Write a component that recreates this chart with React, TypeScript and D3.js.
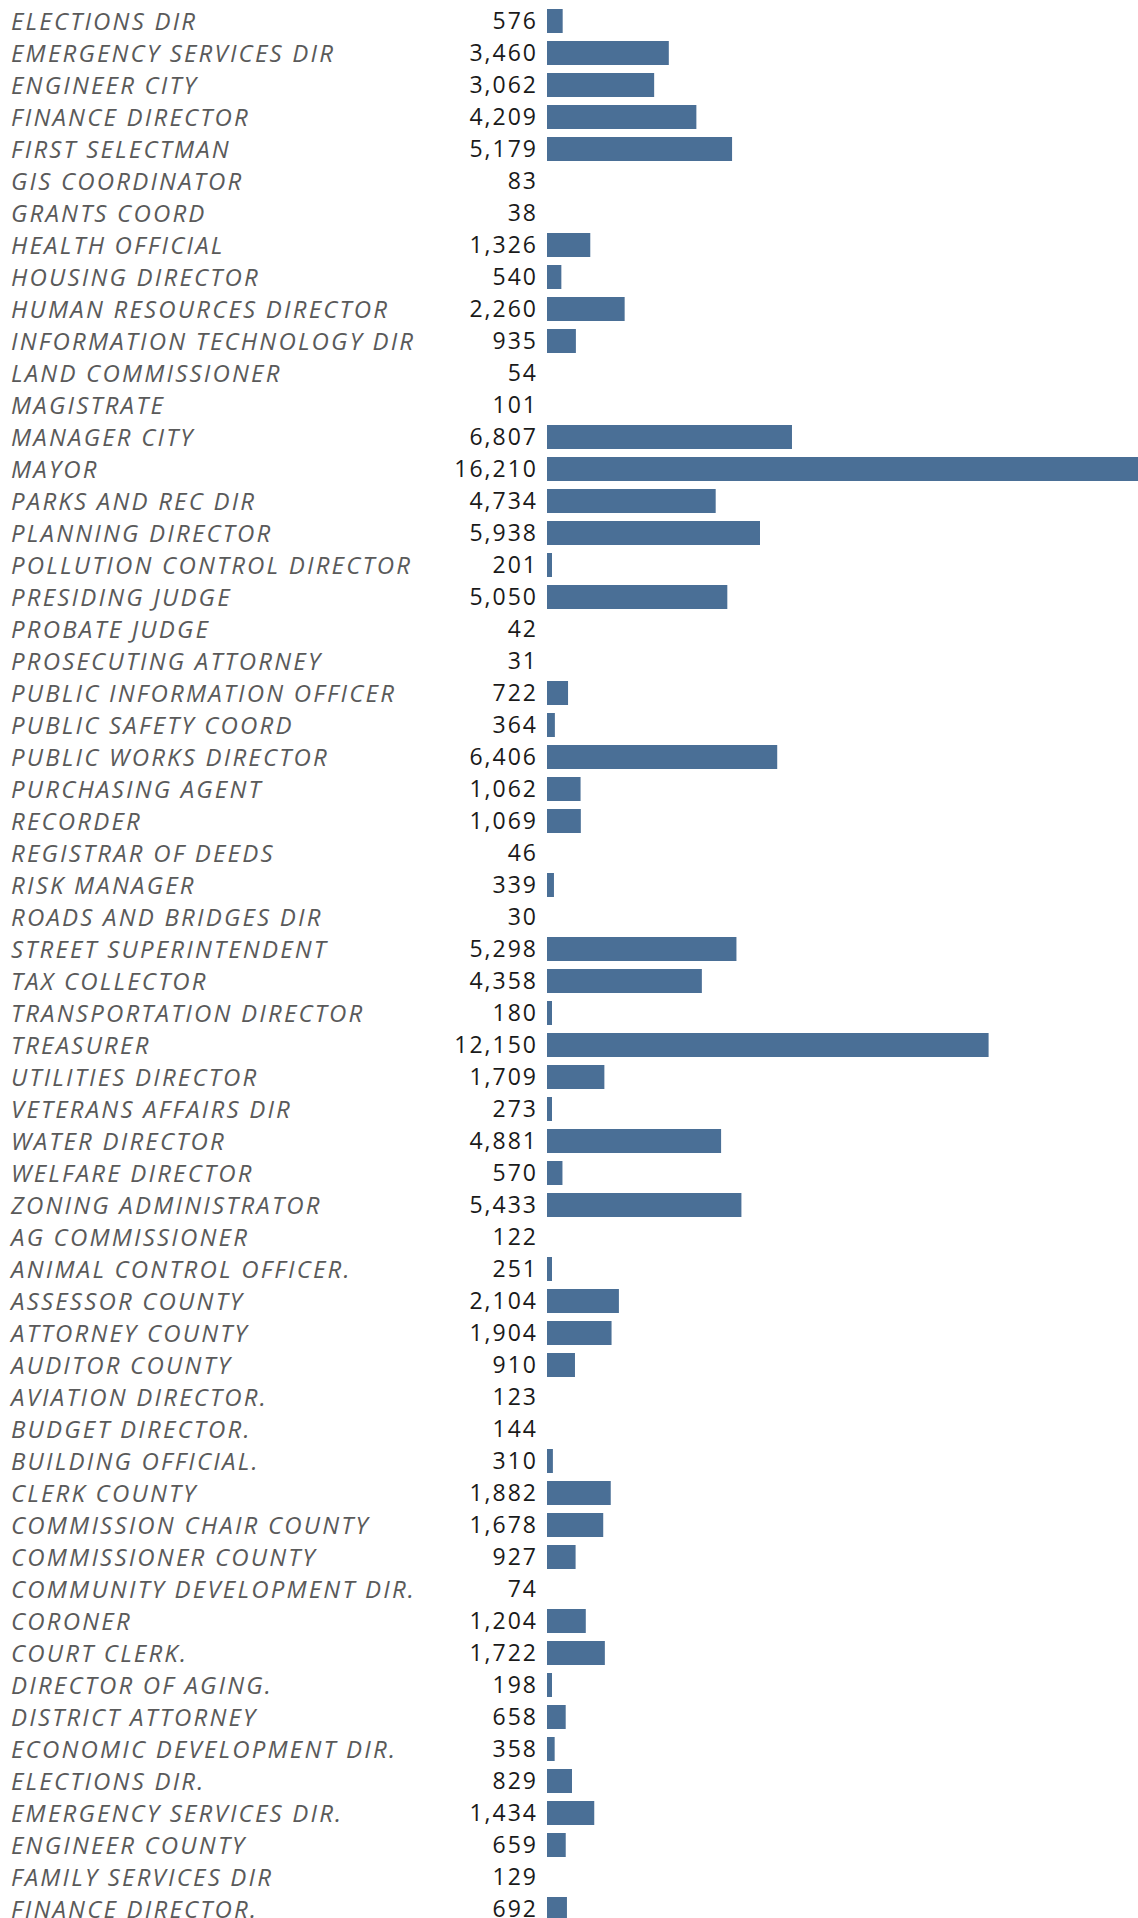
import React from "react";
import * as d3 from "d3";

const categories: string[] = [
  "ELECTIONS DIR", "EMERGENCY SERVICES DIR", "ENGINEER CITY", "FINANCE DIRECTOR", "FIRST SELECTMAN",
  "GIS COORDINATOR", "GRANTS COORD", "HEALTH OFFICIAL", "HOUSING DIRECTOR", "HUMAN RESOURCES DIRECTOR",
  "INFORMATION TECHNOLOGY DIR", "LAND COMMISSIONER", "MAGISTRATE", "MANAGER CITY", "MAYOR",
  "PARKS AND REC DIR", "PLANNING DIRECTOR", "POLLUTION CONTROL DIRECTOR", "PRESIDING JUDGE", "PROBATE JUDGE",
  "PROSECUTING ATTORNEY", "PUBLIC INFORMATION OFFICER", "PUBLIC SAFETY COORD", "PUBLIC WORKS DIRECTOR", "PURCHASING AGENT",
  "RECORDER", "REGISTRAR OF DEEDS", "RISK MANAGER", "ROADS AND BRIDGES DIR", "STREET SUPERINTENDENT",
  "TAX COLLECTOR", "TRANSPORTATION DIRECTOR", "TREASURER", "UTILITIES DIRECTOR", "VETERANS AFFAIRS DIR",
  "WATER DIRECTOR", "WELFARE DIRECTOR", "ZONING ADMINISTRATOR", "AG COMMISSIONER", "ANIMAL CONTROL OFFICER.",
  "ASSESSOR COUNTY", "ATTORNEY COUNTY", "AUDITOR COUNTY", "AVIATION DIRECTOR.", "BUDGET DIRECTOR.",
  "BUILDING OFFICIAL.", "CLERK COUNTY", "COMMISSION CHAIR COUNTY", "COMMISSIONER COUNTY", "COMMUNITY DEVELOPMENT DIR.",
  "CORONER", "COURT CLERK.", "DIRECTOR OF AGING.", "DISTRICT ATTORNEY", "ECONOMIC DEVELOPMENT DIR.",
  "ELECTIONS DIR.", "EMERGENCY SERVICES DIR.", "ENGINEER COUNTY", "FAMILY SERVICES DIR", "FINANCE DIRECTOR.",
];

const values: number[] = [
  576, 3460, 3062, 4209, 5179,
  83, 38, 1326, 540, 2260,
  935, 54, 101, 6807, 16210,
  4734, 5938, 201, 5050, 42,
  31, 722, 364, 6406, 1062,
  1069, 46, 339, 30, 5298,
  4358, 180, 12150, 1709, 273,
  4881, 570, 5433, 122, 251,
  2104, 1904, 910, 123, 144,
  310, 1882, 1678, 927, 74,
  1204, 1722, 198, 658, 358,
  829, 1434, 659, 129, 692,
];

const W = 1138;
const H = 1918;
const BAR_X = 547;
const MIN_BAR = 5;

export default function App() {
  const idx = categories.map((_, i) => i);
  const y = d3
    .scaleBand<number>()
    .domain(idx)
    .range([5, 5 + 32 * categories.length])
    .paddingInner(0.25)
    .paddingOuter(0.125);
  const x = d3.scaleLinear().domain([150, 16210]).range([0, W - BAR_X]);
  const fmt = d3.format(",");

  return (
    <svg
      width={W}
      height={H}
      style={{ position: "absolute", left: 0, top: 0, background: "#fff" }}
    >
      {idx.map((i) => {
        const v = values[i];
        const yy = y(i)!;
        const cy = yy + y.bandwidth() / 2;
        const w = x(v);
        return (
          <g key={i}>
            <text
              x={11}
              y={cy}
              dy="0.36em"
              fontFamily="'Open Sans', Lato, sans-serif"
              fontStyle="italic"
              fontSize={24}
              letterSpacing={2.2}
              fill="#5a5a5a"
            >
              {categories[i]}
            </text>
            <text
              x={538}
              y={cy}
              dy="0.36em"
              textAnchor="end"
              fontFamily="'Open Sans', Lato, sans-serif"
              fontSize={23}
              letterSpacing={2}
              fill="#1a1a1a"
            >
              {fmt(v)}
            </text>
            {w > 0 && (
              <rect
                x={BAR_X}
                y={yy}
                width={Math.max(w, MIN_BAR)}
                height={y.bandwidth()}
                fill="#4a6f96"
              />
            )}
          </g>
        );
      })}
    </svg>
  );
}
